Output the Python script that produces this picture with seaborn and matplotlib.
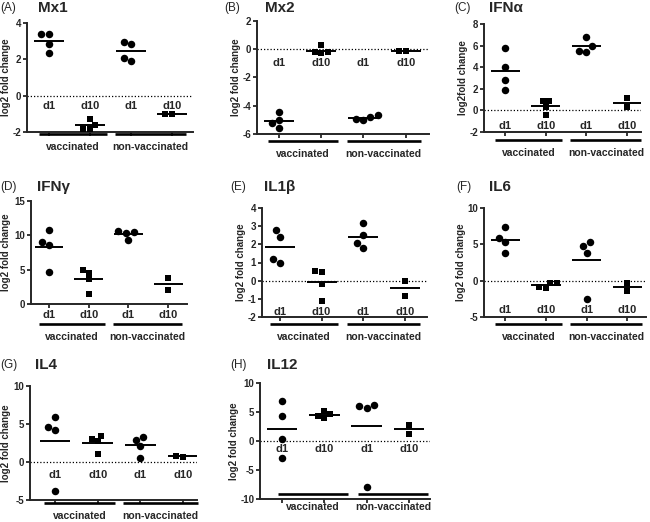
"""Eight-panel scatter of log2 fold change per gene, vaccinated vs non-vaccinated."""

import matplotlib

matplotlib.use("Agg")
import matplotlib.pyplot as plt
import pandas as pd
import seaborn as sns

W, H = 650, 522

GROUPS = ["vaccinated", "non-vaccinated"]
DAYS = ["d1", "d10"]
SLOTS = [f"{g} {d}" for g in GROUPS for d in DAYS]

# values per slot: vaccinated d1, vaccinated d10, non-vaccinated d1, non-vaccinated d10
MX1 = [[3.42, 3.42, 2.83, 2.34], [-1.26, -1.59, -1.82, -1.82], [2.95, 2.83, 2.05, 1.93], [-1.0, -1.0]]
MX2 = [[-4.45, -5.0, -5.25, -5.55], [0.3, -0.2, -0.2, -0.3], [-4.68, -4.77, -4.91, -5.03], [-0.09, -0.09]]
IFNA = [[5.82, 4.0, 2.83, 1.9], [0.89, 0.83, 0.31, -0.46], [6.83, 5.97, 5.5, 5.45], [1.14, 0.31]]
IFNG = [[10.72, 9.03, 8.6, 4.69], [4.93, 4.54, 3.57, 1.45], [10.63, 10.48, 10.39, 9.37], [3.77, 2.03]]
IL1B = [[2.78, 2.41, 1.19, 1.0], [0.55, 0.46, -0.18, -1.1], [3.2, 2.52, 2.05, 1.79], [-0.04, -0.82]]
IL6 = [[7.37, 5.85, 5.3, 3.82], [-0.32, -0.32, -0.92, -1.01], [5.3, 4.75, 3.82, -2.53], [-0.32, -1.47]]
IL4 = [[5.92, 4.6, 4.17, -3.86], [3.42, 3.07, 2.72, 1.05], [3.3, 2.85, 2.06, 0.53], [0.79, 0.7]]
IL12 = [[6.9, 4.31, 0.4, -2.99], [5.17, 4.6, 4.31, 3.97], [6.21, 6.09, 5.75, -7.93], [2.76, 1.26]]

# layout: axes box in pixels (left, right, top, bottom), letter/title positions, etc.
PANELS = [
    dict(letter="(A)", title="Mx1", data=MX1, ylabel="log2 fold change",
         rect=(27, 193, 23, 132), xlim=(-0.54, 3.51), ylim=(-2, 4), yticks=[-2, 0, 2, 4],
         day_y=-0.55, group_y=-2.11, lab=(0, 8), tit=(38, 8), ylab_x=11),
    dict(letter="(B)", title="Mx2", data=MX2, ylabel="log2 fold change",
         rect=(257, 429, 21, 134), xlim=(-0.52, 3.55), ylim=(-6, 2), yticks=[-6, -4, -2, 0, 2],
         day_y=-0.98, group_y=-6.5, lab=(224, 8), tit=(265, 8)),
    dict(letter="(C)", title="IFNα", data=IFNA, ylabel="log2fold change",
         rect=(484, 641, 24, 132), xlim=(-0.52, 3.34), ylim=(-2, 8), yticks=[-2, 0, 2, 4, 6, 8],
         day_y=-1.48, group_y=-2.74, lab=(454, 8), tit=(489, 8)),
    dict(letter="(D)", title="IFNγ", data=IFNG, ylabel="log2 fold change",
         rect=(31, 187, 201, 304), xlim=(-0.45, 3.47), ylim=(0, 15), yticks=[0, 5, 10, 15],
         day_y=None, group_y=-2.9, lab=(0, 187), tit=(37, 187), ylab_x=11),
    dict(letter="(E)", title="IL1β", data=IL1B, ylabel="log2 fold change",
         rect=(262, 427, 208, 317), xlim=(-0.43, 3.53), ylim=(-2, 4), yticks=[-2, -1, 0, 1, 2, 3, 4],
         day_y=-1.73, group_y=-2.38, lab=(230, 187), tit=(264, 187)),
    dict(letter="(F)", title="IL6", data=IL6, ylabel="log2 fold change",
         rect=(484, 646, 208, 317), xlim=(-0.52, 3.46), ylim=(-5, 10), yticks=[-5, 0, 5, 10],
         day_y=-4.05, group_y=-5.96, lab=(456, 187), tit=(489, 187)),
    dict(letter="(G)", title="IL4", data=IL4, ylabel="log2 fold change",
         rect=(30, 197, 386, 500), xlim=(-0.59, 3.33), ylim=(-5, 10), yticks=[-5, 0, 5, 10],
         day_y=-1.67, group_y=-5.4, lab=(0, 365), tit=(35, 365), ylab_x=11),
    dict(letter="(H)", title="IL12", data=IL12, ylabel="log2 fold change",
         rect=(260, 430, 383, 499), xlim=(-0.52, 3.5), ylim=(-10, 10), yticks=[-10, -5, 0, 5, 10],
         day_y=-1.44, group_y=-9.08, lab=(230, 365), tit=(267, 365),
         spans=[(-0.1, 1.55), (1.8, 3.45)]),
]

DEFAULT_SPANS = [(-0.25, 1.4), (1.6, 3.35)]


def to_long(data):
    rows = []
    for slot, values in zip(SLOTS, data):
        for v in values:
            rows.append({"slot": slot, "day": slot.split()[-1], "value": v})
    return pd.DataFrame(rows)


def draw_panel(fig, spec):
    left, right, top, bottom = spec["rect"]
    ax = fig.add_axes([left / W, 1 - bottom / H, (right - left) / W, (bottom - top) / H])
    df = to_long(spec["data"])
    ax.set_ylim(*spec["ylim"])

    for day, marker, size in (("d1", "o", 5.4), ("d10", "s", 4.6)):
        sns.swarmplot(data=df[df["day"] == day], x="slot", y="value", order=SLOTS,
                      color="black", marker=marker, size=size, linewidth=0, ax=ax, zorder=3)

    means = df.groupby("slot")["value"].mean().reindex(SLOTS)
    for i, m in enumerate(means):
        ax.hlines(m, i - 0.36, i + 0.36, color="black", lw=1.4, zorder=4)

    if spec["ylim"][0] < 0:
        ax.axhline(0, color="black", lw=0.9, ls=(0, (1, 1.6)), zorder=1)

    ax.set_xlim(*spec["xlim"])
    ax.set_ylim(*spec["ylim"])
    ax.set_yticks(spec["yticks"], labels=[str(t) for t in spec["yticks"]],
                  fontweight="bold", fontsize=7)
    ax.set_xlabel("")
    ax.set_ylabel(spec["ylabel"], fontsize=7, fontweight="bold", labelpad=1)
    if "ylab_x" in spec:
        ax.yaxis.set_label_coords((spec["ylab_x"] - left) / (right - left), 0.5)
    if spec["day_y"] is None:
        ax.set_xticks(range(len(SLOTS)), labels=DAYS * 2, fontweight="bold", fontsize=8)
    else:
        ax.set_xticks(range(len(SLOTS)), labels=[])
        for i, d in enumerate(DAYS * 2):
            ax.text(i, spec["day_y"], d, ha="center", va="center",
                    fontsize=8, fontweight="bold")
    ax.tick_params(axis="both", length=3, width=1.3, pad=1.2)

    sns.despine(ax=ax)
    for side in ("left", "bottom"):
        ax.spines[side].set_linewidth(1.4)

    gy = spec["group_y"]
    for name, (x0, x1) in zip(GROUPS, spec.get("spans", DEFAULT_SPANS)):
        ax.plot([x0, x1], [gy, gy], color="black", lw=1.9, clip_on=False, solid_capstyle="butt")
        ax.annotate(name, xy=((x0 + x1) / 2, gy), xytext=(0, -9.5), textcoords="offset points",
                    ha="center", va="center", fontsize=7.5, fontweight="bold",
                    annotation_clip=False)

    lx, ly = spec["lab"]
    fig.text(lx / W, 1 - ly / H, spec["letter"], fontsize=8.5, va="center", ha="left")
    tx, ty = spec["tit"]
    fig.text(tx / W, 1 - ty / H, spec["title"], fontsize=11, fontweight="bold",
             va="center", ha="left")


def main() -> None:
    sns.set_style("ticks")
    plt.rcParams["font.family"] = ["Liberation Sans", "DejaVu Sans"]
    plt.rcParams["axes.unicode_minus"] = False
    fig = plt.figure(figsize=(W / 100, H / 100), dpi=100)
    for spec in PANELS:
        draw_panel(fig, spec)
    fig.savefig("out.png", dpi=100)
    plt.close(fig)


if __name__ == "__main__":
    main()
